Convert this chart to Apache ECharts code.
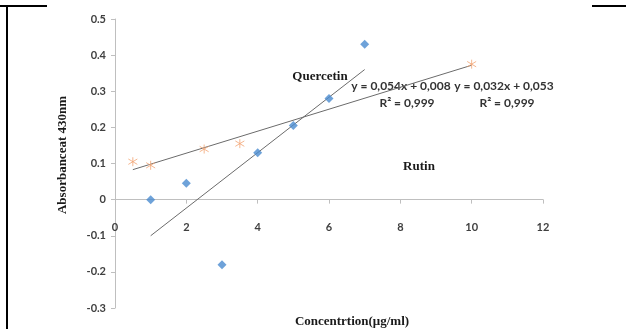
<!DOCTYPE html>
<html><head><meta charset="utf-8">
<script src="https://cdn.jsdelivr.net/npm/echarts@6/dist/echarts.min.js"></script>
<style>html,body{margin:0;padding:0;background:#fff}#c{width:626px;height:329px}</style>
</head><body><div id="c"></div>
<script>
const quercetinX = [1, 2, 3, 4, 5, 6, 7];
const quercetinY = [0.0, 0.045, -0.18, 0.13, 0.205, 0.28, 0.43];
const rutinX = [0.5, 1, 2.5, 3.5, 10];
const rutinY = [0.105, 0.095, 0.14, 0.155, 0.375];
const quercetinTrendX = [1, 7];
const quercetinTrendY = [-0.1, 0.36];
const rutinTrendX = [0.5, 10];
const rutinTrendY = [0.083, 0.372];
const xTicks = [0, 2, 4, 6, 8, 10, 12];
const yTicks = [-0.3, -0.2, -0.1, 0, 0.1, 0.2, 0.3, 0.4, 0.5];
const eqQuercetin = 'y = 0,054x + 0,008';
const eqRutin = 'y = 0,032x + 0,053';
const r2Text = 'R² = 0,999';

const zip = (a, b) => a.map((v, i) => [v, b[i]]);
const chart = echarts.init(document.getElementById('c'));
const serif = '"Liberation Serif", "Times New Roman", serif';
const sans = 'Lato, "Noto Sans", sans-serif';
chart.setOption({
  animation: false,
  grid: { left: 115, right: 83, top: 19, bottom: 21 },
  xAxis: {
    type: 'value', min: xTicks[0], max: xTicks[xTicks.length - 1], interval: 2,
    splitLine: { show: false },
    axisLine: { onZero: true, lineStyle: { color: '#bfbfbf' } },
    axisTick: { show: true, inside: false, length: 4, lineStyle: { color: '#bfbfbf' } },
    axisLabel: { margin: -86, verticalAlign: 'top', color: '#404040', fontWeight: 'bold', fontSize: 11, fontFamily: sans }
  },
  yAxis: {
    type: 'value', min: yTicks[0], max: yTicks[yTicks.length - 1], interval: 0.1,
    splitLine: { show: false },
    axisLine: { show: true, lineStyle: { color: '#bfbfbf' } },
    axisTick: { show: true, length: 4, lineStyle: { color: '#bfbfbf' } },
    axisLabel: { margin: 9, color: '#404040', fontWeight: 'bold', fontSize: 11, fontFamily: sans,
      formatter: v => { const r = Math.round(v * 10) / 10; return r === 0 ? '0' : r.toFixed(1); } }
  },
  series: [
    { type: 'line', data: zip(quercetinTrendX, quercetinTrendY), symbol: 'none',
      lineStyle: { color: '#6b6b6b', width: 1 }, z: 1, silent: true },
    { type: 'line', data: zip(rutinTrendX, rutinTrendY), symbol: 'none',
      lineStyle: { color: '#6b6b6b', width: 1 }, z: 1, silent: true },
    { name: 'Quercetin', type: 'scatter', data: zip(quercetinX, quercetinY), symbol: 'diamond', symbolSize: 9,
      itemStyle: { color: '#4a8bd0' }, z: 3 },
    { name: 'Rutin', type: 'scatter', data: zip(rutinX, rutinY),
      symbol: 'path://M5,0L5,10M0,2L10,8M0,8L10,2', symbolSize: 9,
      itemStyle: { color: 'rgba(0,0,0,0)', borderColor: '#f2a574', borderWidth: 1 }, z: 3 }
  ],
  graphic: [
    { type: 'line', shape: { x1: 0, y1: 6, x2: 47, y2: 6 }, style: { stroke: '#000', lineWidth: 2 } },
    { type: 'line', shape: { x1: 7, y1: 6, x2: 7, y2: 329 }, style: { stroke: '#000', lineWidth: 2 } },
    { type: 'line', shape: { x1: 592, y1: 6, x2: 626, y2: 6 }, style: { stroke: '#000', lineWidth: 2 } },
    { type: 'text', x: 63, y: 155, rotation: Math.PI / 2,
      style: { text: 'Absorbanceat 430nm', font: 'bold 13px ' + serif, fill: '#1a1a1a', textAlign: 'center', textVerticalAlign: 'middle' } },
    { type: 'text', x: 352, y: 322,
      style: { text: 'Concentrtion(μg/ml)', font: 'bold 13px ' + serif, fill: '#1a1a1a', textAlign: 'center', textVerticalAlign: 'middle' } },
    { type: 'text', x: 320, y: 77,
      style: { text: 'Quercetin', font: 'bold 13px ' + serif, fill: '#1a1a1a', textAlign: 'center', textVerticalAlign: 'middle' } },
    { type: 'text', x: 419, y: 167,
      style: { text: 'Rutin', font: 'bold 13px ' + serif, fill: '#1a1a1a', textAlign: 'center', textVerticalAlign: 'middle' } },
    { type: 'text', x: 401, y: 86,
      style: { text: eqQuercetin, font: 'bold 12px ' + sans, fill: '#333', textAlign: 'center', textVerticalAlign: 'middle' } },
    { type: 'text', x: 504, y: 86,
      style: { text: eqRutin, font: 'bold 12px ' + sans, fill: '#333', textAlign: 'center', textVerticalAlign: 'middle' } },
    { type: 'text', x: 407, y: 103,
      style: { text: r2Text, font: 'bold 12px ' + sans, fill: '#333', textAlign: 'center', textVerticalAlign: 'middle' } },
    { type: 'text', x: 507, y: 103,
      style: { text: r2Text, font: 'bold 12px ' + sans, fill: '#333', textAlign: 'center', textVerticalAlign: 'middle' } }
  ]
});
</script></body></html>
